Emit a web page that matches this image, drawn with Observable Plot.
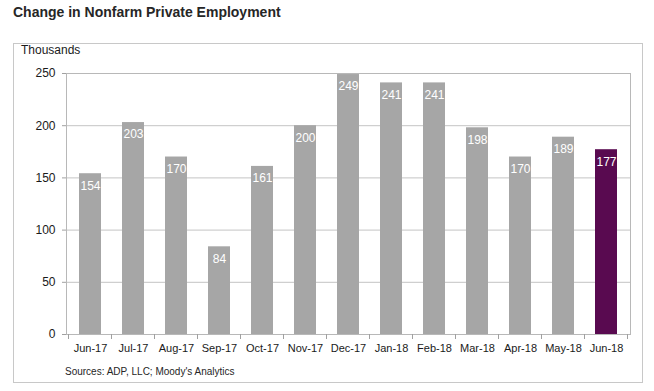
<!DOCTYPE html>
<html>
<head>
<meta charset="utf-8">
<script src="https://cdn.jsdelivr.net/npm/d3@7"></script>
<script src="https://cdn.jsdelivr.net/npm/@observablehq/plot@0.6"></script>
<style>
  html, body { margin: 0; padding: 0; background: #fff; }
  body { width: 654px; height: 391px; position: relative; overflow: hidden;
         font-family: "Liberation Sans", Arial, sans-serif; }
  #chart { position: absolute; left: 0; top: 0; }
  #box { position: absolute; left: 13px; top: 43px; width: 628px; height: 338px;
         border: 1px solid #c8c8c8; pointer-events: none; }
  .t { position: absolute; white-space: nowrap; color: #1a1a1a; }
  #title { left: 13px; top: 4px; font-size: 14px; font-weight: bold; color: #262626; }
  #unit { left: 21px; top: 43px; font-size: 12px; }
  #src { left: 65px; top: 366px; font-size: 10px; color: #262626; }
</style>
</head>
<body>
<div id="chart"></div>
<div id="box"></div>
<div class="t" id="title">Change in Nonfarm Private Employment</div>
<div class="t" id="unit">Thousands</div>
<div class="t" id="src">Sources: ADP, LLC; Moody's Analytics</div>
<script>
const months = ["Jun-17","Jul-17","Aug-17","Sep-17","Oct-17","Nov-17","Dec-17","Jan-18","Feb-18","Mar-18","Apr-18","May-18","Jun-18"];
const values = [154, 203, 170, 84, 161, 200, 249, 241, 241, 198, 170, 189, 177];
const yTicks = [0, 50, 100, 150, 200, 250];
const highlight = "Jun-18";

const data = months.map((m, i) => ({month: m, value: values[i]}));
const GRAY = "#a6a6a6", PURPLE = "#590a50";

const chart = Plot.plot({
  width: 654,
  height: 391,
  marginLeft: 66,
  marginRight: 24,
  marginTop: 73,
  marginBottom: 57,
  style: {background: "transparent", fontFamily: "Liberation Sans, Arial, sans-serif", color: "#1a1a1a"},
  x: {domain: months, paddingInner: 0.5, paddingOuter: 0.25, label: null},
  y: {domain: [0, 250], label: null},
  marks: [
    Plot.gridY(yTicks, {stroke: "#c4c4c4", strokeOpacity: 1}),
    Plot.frame({stroke: "#b8b8b8"}),
    Plot.barY(data, {x: "month", y: "value", fill: d => d.month === highlight ? PURPLE : GRAY}),
    Plot.text(data, {x: "month", y: "value", text: d => String(d.value), dy: 12, fill: "white", fontSize: 12}),
    Plot.axisY(yTicks, {tickSize: 4, tickPadding: 7, fontSize: 12, stroke: "#a0a0a0", fill: "#1a1a1a"}),
    Plot.axisX({tickSize: 0, tickPadding: 10, fontSize: 11, fill: "#1a1a1a"})
  ]
});
document.getElementById("chart").appendChild(chart);

// category boundary ticks below the axis, using the plot's own x and y scales
const xs = chart.scale("x");
const ys = chart.scale("y");
const y0 = ys.apply(0);
const half = (xs.step - xs.bandwidth) / 2;
const bounds = months.map(m => xs.apply(m) - half);
bounds.push(xs.apply(months[months.length - 1]) + xs.bandwidth + half);
d3.select(chart).append("g")
  .attr("stroke", "#a0a0a0")
  .selectAll("line").data(bounds).join("line")
  .attr("x1", d => d).attr("x2", d => d)
  .attr("y1", y0).attr("y2", y0 + 5);
</script>
</body>
</html>
